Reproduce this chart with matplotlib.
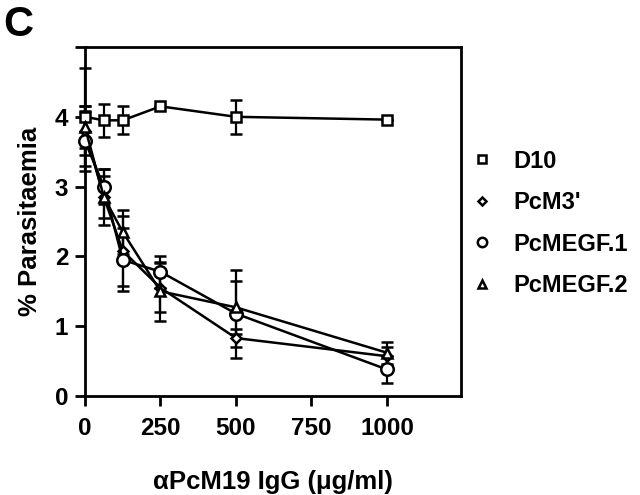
import matplotlib
matplotlib.use("Agg")
import matplotlib.pyplot as plt
from matplotlib.lines import Line2D

plt.rcParams['font.family'] = ['Liberation Sans', 'DejaVu Sans']
plt.rcParams['font.weight'] = 'bold'

dose = [0, 62.5, 125, 250, 500, 1000]

series_names = ["D10", "PcM3'", "PcMEGF.1", "PcMEGF.2"]
d10 = [4.0, 3.95, 3.95, 4.15, 4.0, 3.96]
d10_err = [0.7, 0.24, 0.2, 0.0, 0.24, 0.0]
pcm3 = [3.8, 2.85, 2.08, 1.55, 0.83, 0.57]
pcm3_err = [0.35, 0.4, 0.5, 0.35, 0.13, 0.13]
megf1 = [3.65, 3.0, 1.95, 1.78, 1.18, 0.38]
megf1_err = [0.43, 0.25, 0.45, 0.23, 0.63, 0.2]
megf2 = [3.85, 2.85, 2.35, 1.5, 1.27, 0.62]
megf2_err = [0.3, 0.3, 0.32, 0.42, 0.38, 0.16]

markers = ['s', 'D', 'o', '^']
msizes = [7.5, 5.5, 9, 7]
values = [d10, pcm3, megf1, megf2]
errors = [d10_err, pcm3_err, megf1_err, megf2_err]

xticks = [0, 250, 500, 750, 1000]
yticks = [0, 1, 2, 3, 4]

fig = plt.figure(figsize=(6.4, 4.95), dpi=100)
ax = fig.add_axes([0.1328, 0.2, 0.5875, 0.705])

for vals, errs in zip(values, errors):
    ax.errorbar(dose, vals, yerr=errs, fmt='none', ecolor='black',
                elinewidth=1.6, capsize=4, capthick=1.8, clip_on=False, zorder=2)
for vals, m, ms in zip(values, markers, msizes):
    ax.plot(dose, vals, color='black', lw=1.8, marker=m, ms=ms,
            mfc='white', mec='black', mew=1.8, clip_on=False, zorder=3)

ax.set_xlim(0, 1245)
ax.set_ylim(0, 5)
ax.set_xticks(xticks)
ax.set_xticklabels([str(t) for t in xticks])
ax.set_yticks(yticks + [5])
ax.set_yticklabels([str(t) for t in yticks] + [''])
for s in ax.spines.values():
    s.set_linewidth(2)
ax.tick_params(direction='out', length=7, width=2, labelsize=17.5)
ax.tick_params(axis='x', pad=8)
ax.tick_params(axis='y', pad=5)
for lab in ax.get_xticklabels() + ax.get_yticklabels():
    lab.set_fontweight('bold')

ax.set_xlabel('\u03b1PcM19 IgG (\u03bcg/ml)', fontsize=18.5, fontweight='bold', labelpad=22)
ax.set_ylabel('% Parasitaemia', fontsize=18.5, fontweight='bold', labelpad=9)

handles = [Line2D([], [], ls='none', marker=m, ms=ms * 0.75, mfc='white',
                  mec='black', mew=1.8) for m, ms in zip(markers, msizes)]
fig.legend(handles, series_names, loc='upper left',
           bbox_to_anchor=(0.713, 0.731), frameon=False,
           prop={'size': 17, 'weight': 'bold'}, handlelength=0.8,
           handletextpad=0.9, labelspacing=0.78, borderpad=0.2)

fig.text(0.005, 0.99, 'C', fontsize=30, fontweight='bold', va='top', ha='left')

fig.savefig('out.png', dpi=100)
